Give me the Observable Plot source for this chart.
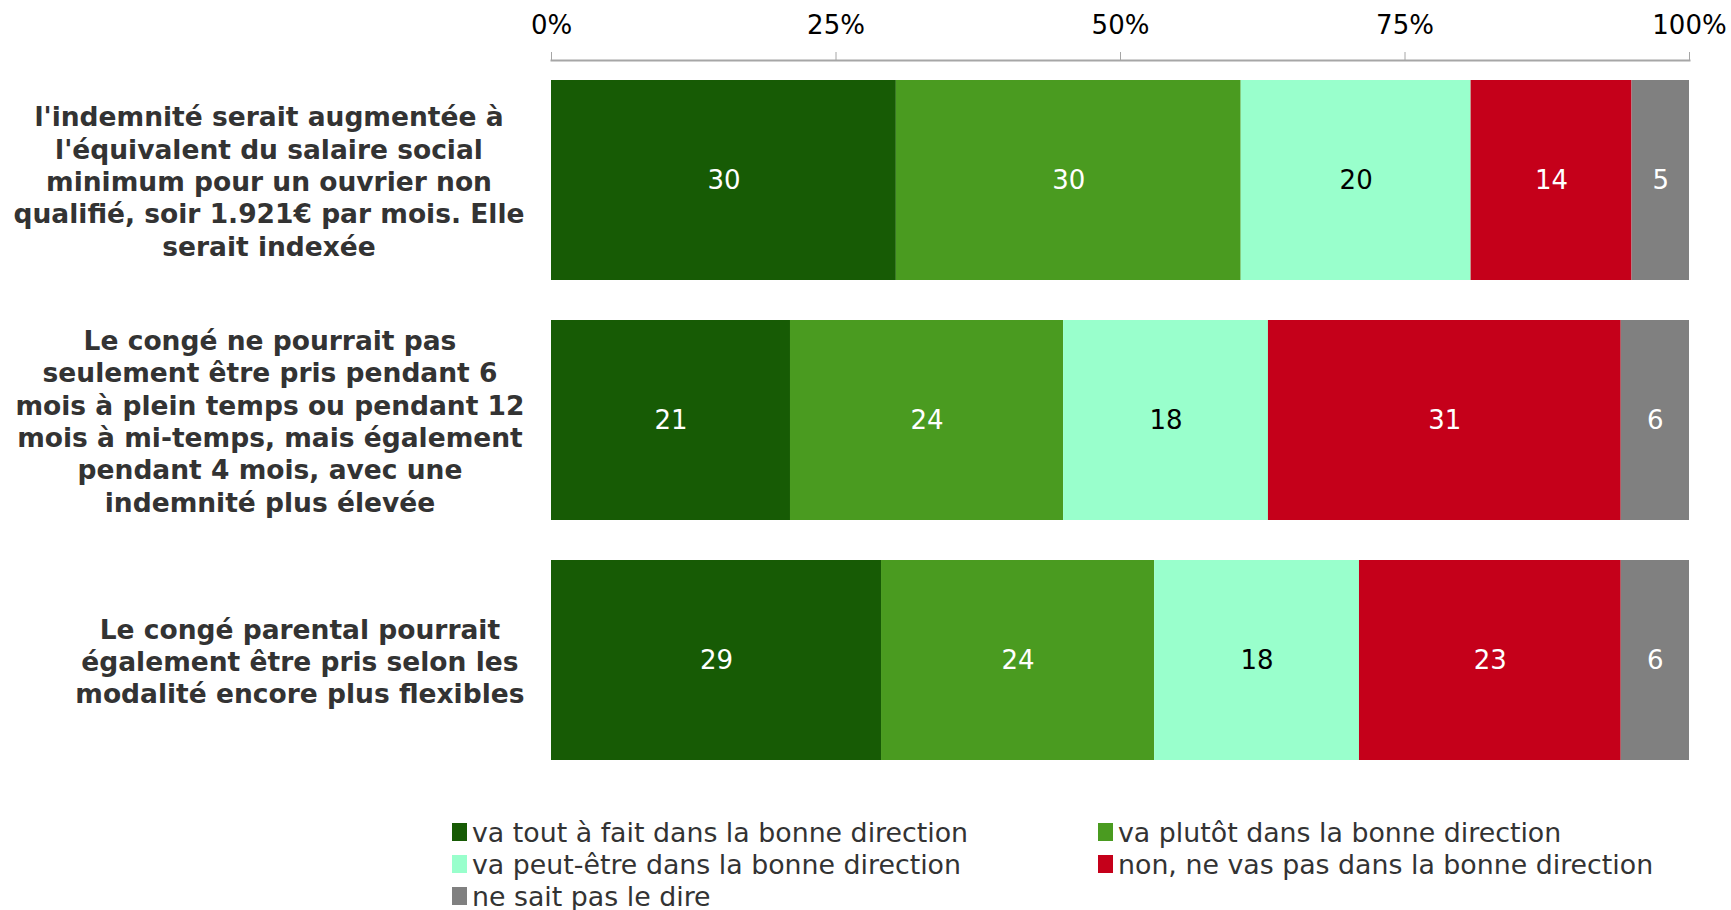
<!DOCTYPE html>
<html>
<head>
<meta charset="utf-8">
<script src="https://cdn.jsdelivr.net/npm/d3@7"></script>
<script src="https://cdn.jsdelivr.net/npm/@observablehq/plot@0.6"></script>
<style>
  body { margin: 0; background: #fff; font-family: "DejaVu Sans", Verdana, sans-serif; }
  #legend { display: grid; grid-template-columns: 646px 600px; margin-left: 452px; margin-top: 18px; row-gap: 4px; }
  .item { display: flex; align-items: center; font-size: 26.8px; color: #333; height: 28px; white-space: nowrap; }
  .sw { width: 15px; height: 18px; margin-right: 5px; flex: none; }
</style>
</head>
<body>
<div id="chart"></div>
<div id="legend"></div>
<script>
const categories = [
  "l'indemnité serait augmentée à\nl'équivalent du salaire social\nminimum pour un ouvrier non\nqualifié, soir 1.921€ par mois. Elle\nserait indexée",
  "Le congé ne pourrait pas\nseulement être pris pendant 6\nmois à plein temps ou pendant 12\nmois à mi-temps, mais également\npendant 4 mois, avec une\nindemnité plus élevée",
  "Le congé parental pourrait\négalement être pris selon les\nmodalité encore plus flexibles"
];
const series = [
  "va tout à fait dans la bonne direction",
  "va plutôt dans la bonne direction",
  "va peut-être dans la bonne direction",
  "non, ne vas pas dans la bonne direction",
  "ne sait pas le dire"
];
const colors = ["#175b05", "#4a9b20", "#99ffcc", "#c5001a", "#808080"];
const values = [
  [30, 30, 20, 14, 5],
  [21, 24, 18, 31, 6],
  [29, 24, 18, 23, 6]
];
const tickValues = [0, 0.25, 0.5, 0.75, 1];
const tickLabels = ["0%", "25%", "50%", "75%", "100%"];

const data = [];
categories.forEach((c, i) => series.forEach((s, j) => data.push({cat: c, series: s, value: values[i][j]})));

const stackOpts = {x: "value", y: "cat", z: "series", order: series, offset: "normalize"};

// measure label widths so each centered block is right-aligned near the bars
const labelFontSize = 26.5;
const ctx = document.createElement("canvas").getContext("2d");
ctx.font = `bold ${labelFontSize}px "DejaVu Sans"`;
const blockWidth = (s) => Math.max(...s.split("\n").map(l => ctx.measureText(l).width));

const labelMarks = categories.map(c => Plot.text([c], {
  y: d => d, text: d => d, frameAnchor: "left", dx: -27 - blockWidth(c) / 2, textAnchor: "middle",
  fontSize: labelFontSize, fontWeight: "bold", fill: "#333", lineHeight: 1.22
}));

const chart = Plot.plot({
  width: 1731,
  height: 800,
  marginLeft: 551,
  marginRight: 42,
  marginTop: 60,
  marginBottom: 20,
  style: {fontFamily: "DejaVu Sans, Verdana, sans-serif", background: "#fff"},
  x: {domain: [0, 1], label: null},
  y: {domain: categories, paddingInner: 0.1667, paddingOuter: 0.0833, axis: null},
  color: {domain: series, range: colors},
  marks: [
    Plot.axisX({
      anchor: "top", ticks: tickValues, tickFormat: (d) => tickLabels[tickValues.indexOf(d)],
      tickSize: 9, tickPadding: 18, fontSize: 26, stroke: "#a6a6a6", fill: "#000", label: null
    }),
    Plot.barX(data, Plot.stackX({...stackOpts, fill: "series", inset: 0})),
    Plot.text(data, Plot.stackX({
      ...stackOpts, text: d => d.series === series[2] ? "" : String(d.value), fill: "#fff", fontSize: 26
    })),
    Plot.text(data, Plot.stackX({
      ...stackOpts, text: d => d.series === series[2] ? String(d.value) : "", fill: "#000", fontSize: 26
    })),
    ...labelMarks,
    Plot.frame({anchor: "top", stroke: "#a6a6a6", strokeWidth: 2})
  ]
});
document.getElementById("chart").appendChild(chart);

const legend = document.getElementById("legend");
series.forEach((s, i) => {
  const el = document.createElement("div");
  el.className = "item";
  el.innerHTML = `<span class="sw" style="background:${colors[i]}"></span><span>${s}</span>`;
  legend.appendChild(el);
});
</script>
</body>
</html>
